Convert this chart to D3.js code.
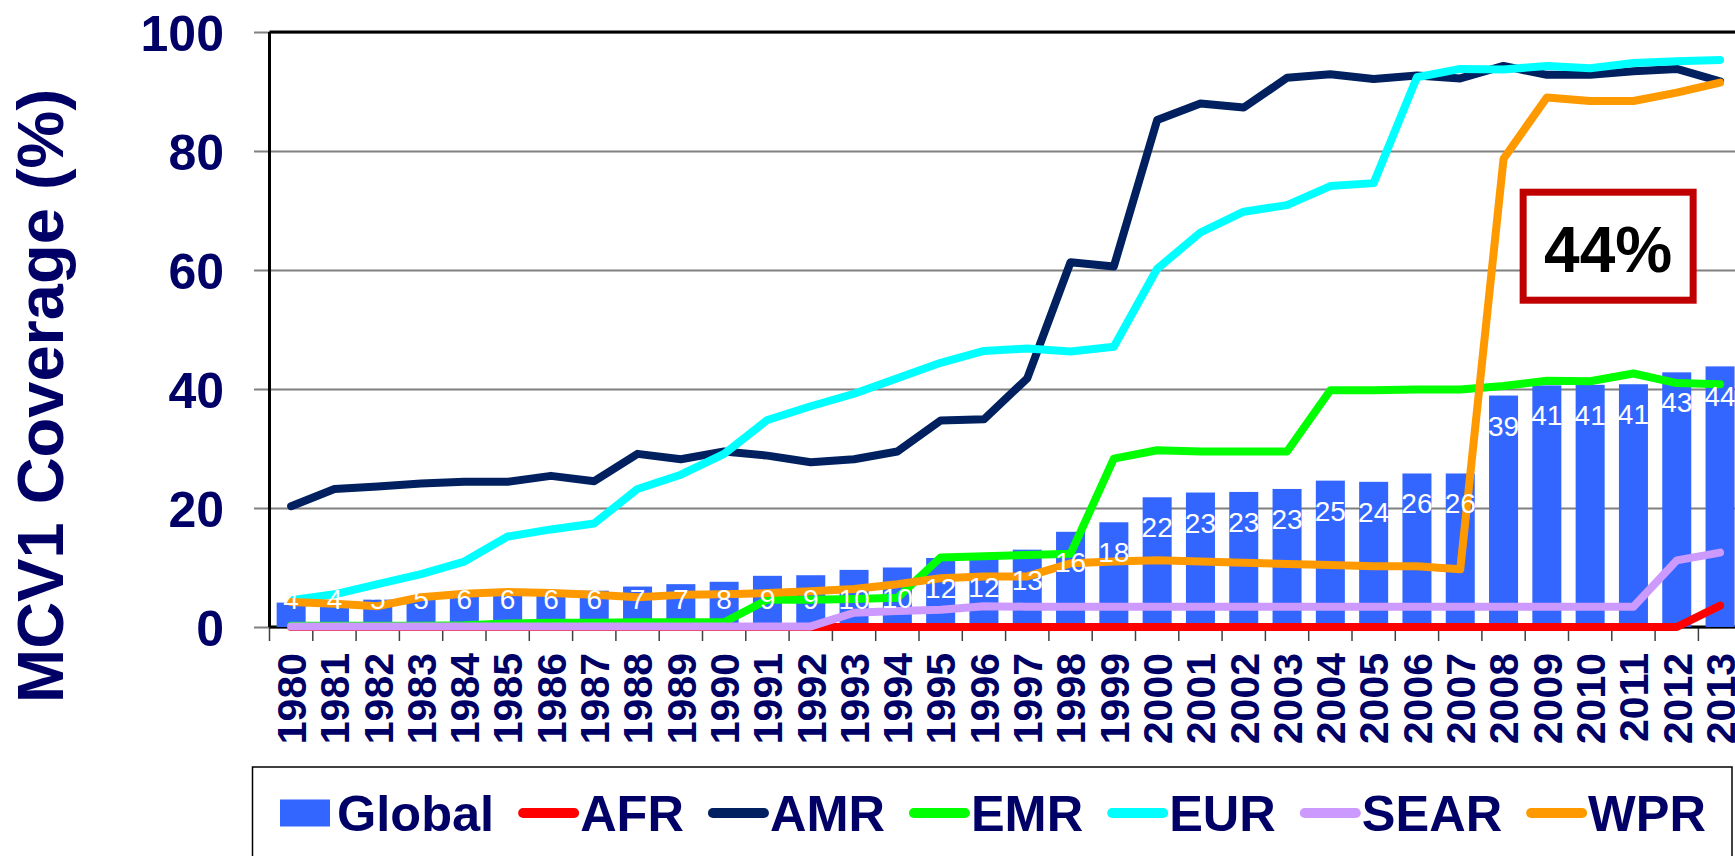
<!DOCTYPE html>
<html>
<head>
<meta charset="utf-8">
<script src="https://cdn.jsdelivr.net/npm/d3@7/dist/d3.min.js"></script>
<style>
  body { margin: 0; background: #fff; }
  svg { display: block; font-family: 'Liberation Sans', Arial, sans-serif; }
</style>
</head>
<body>
<script>
// Categories and series (MCV1 coverage, %)
const YEARS = ['1980', '1981', '1982', '1983', '1984', '1985', '1986', '1987', '1988', '1989',
    '1990', '1991', '1992', '1993', '1994', '1995', '1996', '1997', '1998', '1999',
    '2000', '2001', '2002', '2003', '2004', '2005', '2006', '2007', '2008', '2009',
    '2010', '2011', '2012', '2013'];

const GLOBAL = [4.1, 4.2, 4.6, 5.2, 5.6, 5.8, 6.0, 6.1, 6.8, 7.2, 7.6, 8.6, 8.7, 9.6, 10.0, 11.6, 11.8,
    13.0, 16.0, 17.6, 21.8, 22.6, 22.7, 23.2, 24.6, 24.4, 25.8, 25.8, 38.9, 40.6, 40.7, 40.8, 42.8, 43.8];
const AFR = [0, 0, 0, 0, 0, 0, 0, 0, 0, 0, 0, 0, 0, 0, 0, 0, 0,
    0, 0, 0, 0, 0, 0, 0, 0, 0, 0, 0, 0, 0, 0, 0, 0, 3.6];
const AMR = [20.3, 23.2, 23.6, 24.1, 24.4, 24.4, 25.4, 24.5, 29.1, 28.2, 29.5, 28.8, 27.7, 28.2, 29.5, 34.7, 34.9,
    41.8, 61.3, 60.6, 85.2, 88.0, 87.3, 92.3, 92.9, 92.1, 92.7, 92.2, 94.3, 92.8, 92.8, 93.4, 93.8, 91.7];
const EMR = [0.2, 0.2, 0.2, 0.2, 0.3, 0.6, 0.7, 0.7, 0.8, 0.8, 0.8, 4.6, 4.6, 4.7, 4.9, 11.7, 11.9,
    12.1, 12.3, 28.3, 29.7, 29.5, 29.5, 29.5, 39.8, 39.8, 39.9, 39.9, 40.5, 41.4, 41.3, 42.6, 41.0, 40.8];
const EUR = [4.5, 5.5, 7.2, 8.9, 11.0, 15.2, 16.4, 17.4, 23.2, 25.6, 29.1, 34.8, 37.1, 39.2, 41.8, 44.4, 46.4,
    46.8, 46.3, 47.1, 60.2, 66.3, 69.8, 70.9, 74.1, 74.6, 92.4, 93.8, 93.7, 94.3, 93.9, 94.8, 95.1, 95.3];
const SEAR = [0.1, 0.1, 0.1, 0.1, 0.1, 0.1, 0.1, 0.1, 0.1, 0.1, 0.1, 0.1, 0.1, 2.4, 2.7, 2.9, 3.5,
    3.4, 3.4, 3.4, 3.4, 3.4, 3.4, 3.4, 3.4, 3.4, 3.4, 3.4, 3.4, 3.4, 3.4, 3.4, 11.2, 12.5];
const WPR = [4.2, 3.9, 3.5, 5.0, 5.6, 5.9, 5.7, 5.4, 5.0, 5.4, 5.5, 5.7, 6.0, 6.4, 7.2, 8.2, 8.5,
    8.5, 10.7, 11.0, 11.2, 11.0, 10.8, 10.6, 10.4, 10.2, 10.2, 9.7, 78.7, 89.0, 88.4, 88.4, 89.8, 91.5];

const Y_TICKS = [0, 20, 40, 60, 80, 100];
const REGIONS = ['AFR', 'AMR', 'EMR', 'EUR', 'SEAR', 'WPR'];
const REGION_VALUES = [AFR, AMR, EMR, EUR, SEAR, WPR];

const NAVY = '#000066';
const BAR_COLOR = '#3366ff';
const FONT = "'Liberation Sans', Arial, sans-serif";
const color = d3.scaleOrdinal()
    .domain(REGIONS)
    .range(['#ff0000', '#002060', '#00ff00', '#00ffff', '#cc99ff', '#ff9900']);

// Page and plot geometry
const width = 1735;
const height = 856;
const plot = { left: 269.5, top: 32, bottom: 627, step: 43.3 };
plot.right = plot.left + plot.step * YEARS.length;

const svg = d3.select('body')
    .append('svg')
    .attr('width', width)
    .attr('height', height);

// Scales
const x = d3.scaleBand()
    .domain(YEARS)
    .range([plot.left, plot.right])
    .paddingInner(0.33)
    .paddingOuter(0.165);
const y = d3.scaleLinear().domain([0, 100]).range([plot.bottom, plot.top]);
const xc = (year) => x(year) + x.bandwidth() / 2;

// Y axis with gridlines
const yAxis = svg.append('g')
    .attr('transform', `translate(${plot.left - 15.5},0)`)
    .call(
        d3.axisLeft(y)
            .tickValues(Y_TICKS)
            .tickSize(-(plot.right - plot.left + 15.5))
            .tickPadding(30),
    );
yAxis.select('.domain').remove();
yAxis.selectAll('.tick line')
    .attr('stroke', '#808080')
    .attr('stroke-width', 2);
yAxis.selectAll('.tick text')
    .attr('fill', NAVY)
    .attr('font-size', 50)
    .attr('font-weight', 'bold')
    .attr('font-family', FONT)
    .attr('dy', '0.36em');

// Category tick marks between bands
const bounds = YEARS.map((d) => x(d) - (x.step() - x.bandwidth()) / 2).concat([plot.right]);
svg.append('g')
    .selectAll('line')
    .data(bounds)
    .join('line')
    .attr('x1', (d) => d)
    .attr('x2', (d) => d)
    .attr('y1', plot.bottom)
    .attr('y2', plot.bottom + 14)
    .attr('stroke', '#404040')
    .attr('stroke-width', 1.5);

// X axis labels, rotated
const xAxis = svg.append('g')
    .attr('transform', `translate(0,${plot.bottom})`)
    .call(d3.axisBottom(x).tickSize(0));
xAxis.select('.domain').remove();
xAxis.selectAll('.tick text')
    .attr('fill', NAVY)
    .attr('font-size', 41)
    .attr('font-weight', 'bold')
    .attr('font-family', FONT)
    .attr('transform', 'rotate(-90)')
    .attr('x', -26)
    .attr('y', 0)
    .attr('dy', '0.36em')
    .style('text-anchor', 'end');

// Plot frame: left axis, top border, baseline
const frame = svg.append('g').attr('stroke', '#000').attr('stroke-width', 3);
frame.append('line')
    .attr('x1', plot.left).attr('x2', plot.left)
    .attr('y1', plot.top).attr('y2', plot.bottom);
frame.append('line')
    .attr('x1', plot.left).attr('x2', plot.right)
    .attr('y1', plot.top).attr('y2', plot.top);
frame.append('line')
    .attr('x1', plot.left).attr('x2', plot.right)
    .attr('y1', plot.bottom).attr('y2', plot.bottom);

// Global bars
svg.append('g')
    .selectAll('rect')
    .data(GLOBAL)
    .join('rect')
    .attr('x', (d, i) => x(YEARS[i]))
    .attr('y', (d) => y(d))
    .attr('width', x.bandwidth())
    .attr('height', (d) => y(0) - y(d))
    .attr('fill', BAR_COLOR);

// Regional lines
const line = d3.line()
    .x((d, i) => xc(YEARS[i]))
    .y((d) => y(d));

svg.append('g')
    .selectAll('path')
    .data(REGIONS)
    .join('path')
    .attr('d', (d, i) => line(REGION_VALUES[i]))
    .attr('fill', 'none')
    .attr('stroke', (d) => color(d))
    .attr('stroke-width', 8)
    .attr('stroke-linejoin', 'round')
    .attr('stroke-linecap', 'round');

// Bar value labels
svg.append('g')
    .selectAll('text')
    .data(GLOBAL)
    .join('text')
    .attr('x', (d, i) => xc(YEARS[i]))
    .attr('y', (d) => Math.min(y(d) + 30, 599) + 10)
    .attr('text-anchor', 'middle')
    .attr('font-size', 28)
    .attr('fill', '#fff')
    .text((d) => d3.format('.0f')(d));

// 44% callout
const note = svg.append('g')
    .attr('transform', `translate(${xc('2010') + 18},${y(64)})`);
note.append('rect')
    .attr('x', -85)
    .attr('y', -54)
    .attr('width', 170)
    .attr('height', 108)
    .attr('fill', '#fff')
    .attr('stroke', '#c00000')
    .attr('stroke-width', 7);
note.append('text')
    .attr('y', 26)
    .attr('text-anchor', 'middle')
    .attr('font-size', 64)
    .attr('font-weight', 'bold')
    .attr('fill', '#000')
    .text('44%');

// Y axis title
svg.append('text')
    .attr('transform', 'translate(63,396) rotate(-90)')
    .attr('text-anchor', 'middle')
    .attr('font-size', 65)
    .attr('font-weight', 'bold')
    .attr('fill', NAVY)
    .text('MCV1 Coverage (%)');

// Legend
const legend = svg.append('g');
legend.append('rect')
    .attr('x', 252.5)
    .attr('y', 767)
    .attr('width', 1732 - 252.5)
    .attr('height', 150)
    .attr('fill', '#fff')
    .attr('stroke', '#000')
    .attr('stroke-width', 1.5);

const keyY = 813;
let cursor = 280;
legend.append('rect')
    .attr('x', cursor)
    .attr('y', keyY - 13.5)
    .attr('width', 50)
    .attr('height', 27)
    .attr('fill', BAR_COLOR);
cursor += 57;

const addLabel = (label) => {
    const t = legend.append('text')
        .attr('x', cursor)
        .attr('y', 831)
        .attr('font-size', 50.5)
        .attr('font-weight', 'bold')
        .attr('fill', NAVY)
        .text(label);
    cursor += t.node().getComputedTextLength();
};
addLabel('Global');

REGIONS.forEach((name) => {
    cursor += 24;
    legend.append('line')
        .attr('x1', cursor + 5)
        .attr('x2', cursor + 56)
        .attr('y1', keyY)
        .attr('y2', keyY)
        .attr('stroke', color(name))
        .attr('stroke-width', 10)
        .attr('stroke-linecap', 'round');
    cursor += 62;
    addLabel(name);
});
</script>
</body>
</html>
